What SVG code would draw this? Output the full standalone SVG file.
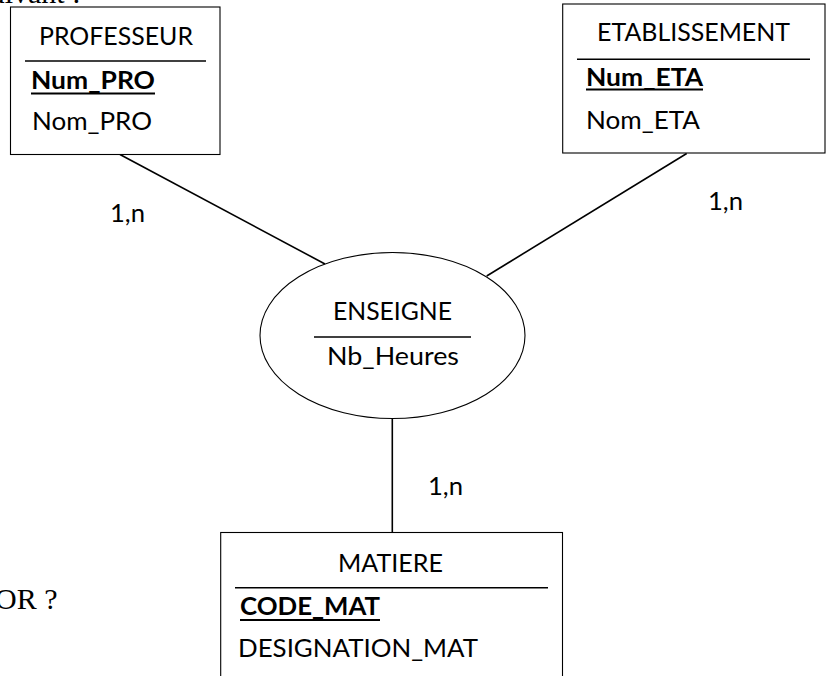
<svg xmlns="http://www.w3.org/2000/svg" width="831" height="676" viewBox="0 0 831 676">
  <style>
    .box { fill: #ffffff; stroke: #000000; stroke-width: 1.1; }
    .sep { stroke: #000000; stroke-width: 1.4; }
    .ul { stroke: #000000; stroke-width: 2; }
    .link { stroke: #000000; stroke-width: 1.6; fill: none; }
    .t { font-family: Lato, "Open Sans", "Liberation Sans", sans-serif; font-size: 25px; fill: #000000; }
    .b { font-weight: bold; }
    .doc { font-family: "Liberation Serif", "Times New Roman", serif; font-size: 30px; fill: #000000; }
  </style>

  <rect x="0" y="0" width="831" height="676" fill="#ffffff"/>

  <!-- surrounding page text, cut at the edges -->
  <text class="doc" x="-22" y="2.5">suivant :</text>
  <text class="doc" x="-5" y="609">OR ?</text>

  <!-- links between entities and the association -->
  <g id="connectors">
    <line class="link" x1="120" y1="154.5" x2="325" y2="264"/>
    <line class="link" x1="686.7" y1="153.5" x2="486.7" y2="276"/>
    <line class="link" x1="392.3" y1="418.5" x2="392.3" y2="532.5"/>
    <text class="t" x="110" y="221.5" textLength="35" lengthAdjust="spacingAndGlyphs">1,n</text>
    <text class="t" x="708" y="209.5" textLength="35" lengthAdjust="spacingAndGlyphs">1,n</text>
    <text class="t" x="428" y="495" textLength="35" lengthAdjust="spacingAndGlyphs">1,n</text>
  </g>

  <!-- entity PROFESSEUR -->
  <g id="professeur">
    <rect class="box" x="10.5" y="7" width="209.5" height="147.5"/>
    <text class="t" x="39" y="45" textLength="154" lengthAdjust="spacingAndGlyphs">PROFESSEUR</text>
    <line class="sep" x1="25" y1="61" x2="206" y2="61"/>
    <text class="t b" x="31" y="89.3" textLength="124" lengthAdjust="spacingAndGlyphs">Num_PRO</text>
    <line class="ul" x1="31" y1="93.5" x2="155" y2="93.5"/>
    <text class="t" x="32" y="130" textLength="120" lengthAdjust="spacingAndGlyphs">Nom_PRO</text>
  </g>

  <!-- entity ETABLISSEMENT -->
  <g id="etablissement">
    <rect class="box" x="562.7" y="4" width="262.3" height="149"/>
    <text class="t" x="597" y="40.5" textLength="193" lengthAdjust="spacingAndGlyphs">ETABLISSEMENT</text>
    <line class="sep" x1="577" y1="59.3" x2="810" y2="59.3"/>
    <text class="t b" x="586" y="85.5" textLength="117" lengthAdjust="spacingAndGlyphs">Num_ETA</text>
    <line class="ul" x1="586" y1="89.5" x2="703" y2="89.5"/>
    <text class="t" x="586" y="128.5" textLength="114" lengthAdjust="spacingAndGlyphs">Nom_ETA</text>
  </g>

  <!-- association ENSEIGNE -->
  <g id="enseigne">
    <ellipse class="box" cx="392.5" cy="335.5" rx="132.5" ry="83"/>
    <text class="t" x="333" y="320" textLength="119" lengthAdjust="spacingAndGlyphs">ENSEIGNE</text>
    <line class="sep" x1="314" y1="337" x2="471" y2="337"/>
    <text class="t" x="327" y="365" textLength="132" lengthAdjust="spacingAndGlyphs">Nb_Heures</text>
  </g>

  <!-- entity MATIERE -->
  <g id="matiere">
    <rect class="box" x="220.7" y="532.5" width="341.8" height="160"/>
    <text class="t" x="338" y="571.7" textLength="105" lengthAdjust="spacingAndGlyphs">MATIERE</text>
    <line class="sep" x1="235" y1="587.7" x2="548" y2="587.7"/>
    <text class="t b" x="240" y="615" textLength="140" lengthAdjust="spacingAndGlyphs">CODE_MAT</text>
    <line class="ul" x1="240" y1="620" x2="380" y2="620"/>
    <text class="t" x="238" y="656.7" textLength="240" lengthAdjust="spacingAndGlyphs">DESIGNATION_MAT</text>
  </g>
</svg>
